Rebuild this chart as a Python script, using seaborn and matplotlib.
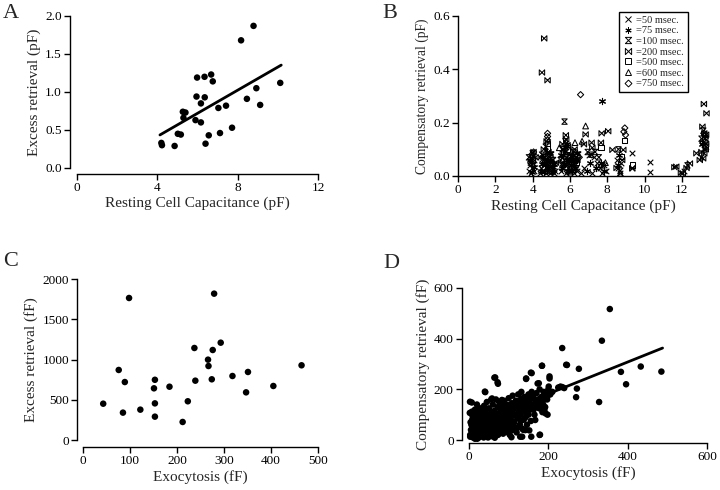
import numpy as np
import pandas as pd
import matplotlib
matplotlib.use('Agg')
import matplotlib.pyplot as plt
import seaborn as sns
from matplotlib.path import Path

# ---- panel A: excess retrieval vs resting capacitance (pF) ----
a_cap = [4.20, 4.23, 4.86, 5.02, 5.17, 5.27, 5.40, 5.30, 5.90, 5.95, 5.98, 6.17, 6.17, 6.35, 6.36,
         6.40, 6.56, 6.68, 6.76, 7.04, 7.12, 7.42, 7.72, 8.17, 8.46, 8.79, 8.93, 9.12, 10.12]
a_excess = [0.33, 0.30, 0.29, 0.45, 0.44, 0.74, 0.73, 0.66, 0.63, 0.94, 1.19, 0.85, 0.60, 1.20, 0.93,
            0.32, 0.43, 1.23, 1.14, 0.79, 0.46, 0.82, 0.53, 1.68, 0.91, 1.87, 1.05, 0.83, 1.12]
a_fit_x = [4.13, 10.17]
a_fit_y = [0.435, 1.354]

# ---- panel B: compensatory retrieval per pulse duration, (capacitance, retrieval) ----
b_50ms = [(3.80, 0.02), (3.85, 0.04), (3.90, 0.01), (3.95, 0.03), (4.00, 0.05), (4.05, 0.02), (4.10, 0.06),
          (4.40, 0.01), (4.45, 0.03), (4.50, 0.05), (4.55, 0.02), (4.60, 0.04), (4.65, 0.06), (4.70, 0.01),
          (4.75, 0.03), (4.85, 0.02), (4.90, 0.05), (4.95, 0.01), (5.00, 0.04), (5.05, 0.02), (5.10, 0.03),
          (5.15, 0.01), (5.20, 0.02), (5.50, 0.02), (5.55, 0.05), (5.60, 0.07), (5.65, 0.03), (5.70, 0.09),
          (5.80, 0.01), (5.85, 0.04), (6.00, 0.02), (6.05, 0.06), (6.10, 0.03), (6.15, 0.05), (6.20, 0.01),
          (6.30, 0.07), (6.40, 0.02), (6.60, 0.01), (6.75, 0.03), (7.00, 0.08), (7.20, 0.01), (7.30, 0.07),
          (7.45, 0.05), (7.60, 0.03), (7.70, 0.01), (7.80, 0.04), (7.95, 0.02), (8.50, 0.06), (8.60, 0.03),
          (8.70, 0.01), (8.75, 0.05), (9.30, 0.085), (9.35, 0.03), (10.30, 0.054), (10.30, 0.016),
          (12.10, 0.02), (13.00, 0.07), (13.20, 0.10),
          (4.42, 0.07), (4.58, 0.08), (4.72, 0.05), (4.88, 0.07), (5.02, 0.06), (5.12, 0.05), (5.58, 0.04),
          (5.62, 0.10), (5.68, 0.06), (5.78, 0.07), (5.92, 0.03), (6.08, 0.08), (6.18, 0.04), (6.25, 0.06),
          (6.35, 0.03), (3.88, 0.055), (4.02, 0.075)]
b_75ms = [(3.85, 0.06), (3.95, 0.015), (4.05, 0.035), (4.45, 0.02), (4.55, 0.07), (4.65, 0.04), (4.75, 0.09),
          (4.85, 0.03), (4.95, 0.06), (5.05, 0.015), (5.15, 0.045), (5.55, 0.03), (5.65, 0.08), (5.75, 0.11),
          (5.85, 0.06), (5.90, 0.02), (6.05, 0.04), (6.15, 0.08), (6.25, 0.03), (6.35, 0.06), (6.90, 0.02),
          (7.10, 0.05), (7.40, 0.03), (7.65, 0.05), (7.74, 0.28), (7.85, 0.02), (8.55, 0.04), (8.65, 0.08),
          (13.10, 0.12), (13.25, 0.15),
          (4.48, 0.045), (4.62, 0.015), (4.78, 0.055), (4.92, 0.085), (5.08, 0.035), (5.52, 0.08),
          (5.68, 0.045), (5.82, 0.12), (6.02, 0.065), (6.12, 0.02), (6.22, 0.055), (6.38, 0.085)]
b_100ms = [(3.80, 0.07), (3.90, 0.05), (4.00, 0.085), (4.50, 0.08), (4.60, 0.05), (4.70, 0.11), (4.80, 0.07),
           (4.90, 0.04), (5.00, 0.08), (5.10, 0.06), (5.50, 0.06), (5.60, 0.10), (5.71, 0.204), (5.75, 0.13),
           (5.80, 0.09), (5.95, 0.05), (6.10, 0.07), (6.20, 0.09), (6.30, 0.04), (6.45, 0.08), (6.95, 0.09),
           (7.15, 0.08), (7.35, 0.09), (7.55, 0.07), (7.75, 0.04), (8.60, 0.10), (8.70, 0.02), (12.30, 0.04),
           (13.05, 0.14), (13.15, 0.17), (13.30, 0.11)]
b_200ms = [(4.62, 0.516), (4.50, 0.388), (4.80, 0.359), (13.18, 0.27), (13.32, 0.235), (4.05, 0.09),
           (4.15, 0.07), (4.60, 0.10), (4.75, 0.13), (4.85, 0.09), (5.25, 0.05), (5.60, 0.12), (5.78, 0.153),
           (5.80, 0.137), (5.90, 0.11), (6.00, 0.08), (6.25, 0.10), (6.40, 0.06), (6.75, 0.119), (6.84, 0.156),
           (7.16, 0.125), (7.20, 0.106), (7.66, 0.125), (7.70, 0.16), (8.05, 0.168), (8.28, 0.098), (8.50, 0.03),
           (8.86, 0.098), (8.80, 0.06), (9.34, 0.029), (11.60, 0.033), (11.70, 0.035), (11.95, 0.012),
           (12.05, 0.01), (12.25, 0.03), (12.43, 0.047), (12.78, 0.085), (12.96, 0.06), (13.14, 0.066),
           (13.10, 0.185), (13.20, 0.16), (13.25, 0.14), (13.30, 0.155), (13.15, 0.125), (13.28, 0.10),
           (13.20, 0.085), (13.05, 0.09), (13.30, 0.12)]
b_500ms = [(4.00, 0.06), (4.80, 0.123), (4.80, 0.104), (5.85, 0.10), (7.66, 0.107), (8.91, 0.133),
           (8.77, 0.072), (9.34, 0.041), (6.35, 0.05)]
b_600ms = [(5.43, 0.106), (6.27, 0.125), (6.84, 0.1875), (6.65, 0.13), (7.90, 0.05), (4.70, 0.02),
           (8.70, 0.01), (6.00, 0.015)]
b_750ms = [(6.57, 0.305), (4.80, 0.16), (4.80, 0.148), (4.80, 0.135), (8.94, 0.18), (8.89, 0.166),
           (8.98, 0.154), (3.95, 0.08), (4.05, 0.09), (5.95, 0.02), (6.50, 0.07), (13.20, 0.16), (13.25, 0.13)]
b_labels = ['=50 msec.', '=75 msec.', '=100 msec.', '=200 msec.', '=500 msec.', '=600 msec.', '=750 msec.']

# ---- panel C: excess retrieval vs exocytosis (fF) ----
c_exo = [43, 76, 85, 89, 98, 122, 151, 153, 153, 153, 184, 212, 223, 237, 239, 266, 267, 274, 276, 279,
         293, 318, 347, 351, 405, 465]
c_excess = [451, 870, 340, 720, 1764, 377, 642, 748, 455, 290, 662, 224, 481, 1143, 737, 998, 919, 754,
            1118, 1818, 1209, 795, 592, 845, 671, 928]

# ---- panel D: compensatory retrieval vs exocytosis (fF), (exo, retrieval) ----
d_points = [(355, 517), (335, 392), (235, 363), (245, 297), (277, 281), (184, 293), (383, 269), (433, 290),
            (485, 270), (396, 220), (272, 203), (270, 169), (328, 150), (225, 207), (235, 209), (203, 251),
            (158, 264), (144, 243), (66, 247), (73, 222), (41, 189), (7, 148), (2, 107), (173, 223), (201, 211),
            (198, 174), (193, 105), (167, 79), (179, 21), (157, 13), (129, 13), (107, 11), (65, 9), (89, 36),
            (117, 40), (137, 40), (152, 38), (2.5, 151), (7.5, 112), (40, 191), (64, 246), (72, 228), (144, 241),
            (156, 266), (184, 293), (203, 243), (176, 224), (247, 296), (231, 210), (190, 118), (178, 20),
            (134, 13), (92, 39), (142, 39), (129, 99), (66, 92), (108, 138), (129, 158), (83, 158), (58, 164),
            (3, 13),
            (5, 40), (6, 60), (8, 25), (8, 80), (10, 10), (10, 50), (12, 100), (12, 30), (14, 65), (15, 5),
            (15, 120), (16, 45), (18, 85), (18, 20), (20, 55), (20, 140), (22, 35), (22, 105), (24, 70),
            (25, 10), (26, 90), (27, 50), (28, 125), (30, 25), (30, 75), (32, 110), (33, 45), (34, 15), (35, 60),
            (36, 95), (38, 135), (38, 30), (40, 80), (40, 50), (42, 20), (42, 115), (44, 65), (45, 150),
            (46, 40), (48, 90), (48, 10), (50, 125), (50, 55), (52, 75), (54, 30), (55, 105), (56, 160),
            (58, 45), (58, 85), (60, 140), (60, 20), (62, 65), (64, 115), (65, 95), (66, 35), (68, 160),
            (70, 75), (70, 50), (72, 130), (74, 100), (75, 25), (76, 150), (78, 85), (80, 60), (80, 115),
            (82, 40), (84, 135), (85, 95), (88, 70), (88, 155), (90, 120), (92, 50), (94, 100), (95, 140),
            (96, 80), (98, 30), (100, 130), (100, 165), (102, 60), (104, 110), (106, 90), (108, 145), (110, 40),
            (110, 175), (112, 120), (114, 70), (116, 100), (118, 155), (120, 135), (120, 30), (122, 85),
            (124, 180), (126, 115), (128, 60), (130, 150), (130, 100), (132, 190), (134, 45), (136, 130),
            (138, 80), (140, 170), (142, 110), (144, 150), (146, 60), (148, 135), (150, 180), (150, 100),
            (152, 160), (155, 120), (156, 75), (158, 190), (160, 140), (162, 170), (165, 100), (168, 155),
            (170, 185), (172, 130), (175, 160), (178, 200), (180, 145), (182, 170), (185, 110), (188, 190),
            (190, 160), (192, 130), (195, 175), (198, 100), (200, 200), (205, 180), (210, 190), (230, 210),
            (240, 205),
            (3, 20), (4, 70), (7, 35), (9, 95), (11, 15), (13, 55), (17, 30), (19, 75), (21, 5), (23, 45),
            (26, 30), (29, 60), (31, 90), (34, 75), (37, 10), (39, 55), (41, 100), (43, 35), (47, 70), (49, 25),
            (51, 95), (53, 50), (57, 15), (59, 110), (61, 80), (63, 30), (67, 55), (69, 105), (73, 20), (77, 70),
            (79, 45), (83, 90), (86, 25), (89, 110), (91, 65), (97, 45), (99, 90), (103, 20), (107, 75),
            (111, 55), (115, 140), (119, 95), (123, 50), (127, 125), (131, 75), (135, 165), (139, 120),
            (143, 90), (147, 115), (153, 140), (157, 165), (163, 120), (167, 140), (173, 150), (177, 125),
            (183, 155), (187, 140), (193, 180), (197, 160)]
d_fit_x = [5, 488]
d_fit_y = [60, 363]

sns.set_theme(style='ticks')
plt.rcParams['font.family'] = ['Liberation Serif', 'DejaVu Serif']
TICK_FS = 9.5
LABEL_FS = 11

fig = plt.figure(figsize=(7.2, 4.9), dpi=100)
W, H = 720.0, 490.0


def px_axes(left, right, top, bottom):
    return fig.add_axes([left / W, 1 - bottom / H, (right - left) / W, (bottom - top) / H])


def style_axis(ax, xb, yb, offset_x=4, offset_y=5):
    ax.spines['left'].set_bounds(*yb)
    ax.spines['bottom'].set_bounds(*xb)
    ax.spines['left'].set_position(('outward', offset_y))
    ax.spines['bottom'].set_position(('outward', offset_x))
    for side in ['left', 'bottom']:
        ax.spines[side].set_color('black')
        ax.spines[side].set_linewidth(1.0)
    ax.tick_params(axis='both', direction='out', length=4, width=1.0, colors='black',
                   labelsize=TICK_FS, pad=2)


# A
axA = px_axes(77, 318, 16, 168)
sns.scatterplot(x=a_cap, y=a_excess, color='black', s=22, edgecolor='none', ax=axA, clip_on=False)
sns.lineplot(x=a_fit_x, y=a_fit_y, color='black', linewidth=2, ax=axA)
axA.set_xlim(0, 12)
axA.set_ylim(0, 2.0)
axA.set_xticks([0, 4, 8, 12])
axA.set_xticklabels(['0', '4', '8', '12'])
axA.set_yticks([0, 0.5, 1.0, 1.5, 2.0])
axA.set_yticklabels(['0.0', '0.5', '1.0', '1.5', '2.0'])
sns.despine(ax=axA)
style_axis(axA, (0, 12), (0, 2.0))
axA.set_xlabel('Resting Cell Capacitance (pF)', fontsize=LABEL_FS, labelpad=2)
axA.set_ylabel('Excess retrieval (pF)', fontsize=LABEL_FS, labelpad=3)

# B
axB = px_axes(458, 708, 16, 176)
hourglass = Path([(-1, 1), (1, 1), (-1, -1), (1, -1), (-1, 1)],
                 [Path.MOVETO, Path.LINETO, Path.LINETO, Path.LINETO, Path.CLOSEPOLY])
bowtie = Path([(-1, 1), (-1, -1), (1, 1), (1, -1), (-1, 1)],
              [Path.MOVETO, Path.LINETO, Path.LINETO, Path.LINETO, Path.CLOSEPOLY])
b_groups = [b_50ms, b_75ms, b_100ms, b_200ms, b_500ms, b_600ms, b_750ms]
b_markers = ['x', (6, 2, 0), hourglass, bowtie, 's', '^', 'D']
b_sizes = [16, 20, 15, 15, 14, 17, 10]
b_lineart = [True, True, False, False, False, False, False]
handles = []
for pts, mk, sz, art, lab in zip(b_groups, b_markers, b_sizes, b_lineart, b_labels):
    df = pd.DataFrame(pts, columns=['cap', 'retrieval'])
    if art:
        sns.scatterplot(data=df, x='cap', y='retrieval', marker=mk, s=sz, color='black',
                        linewidth=0.8, ax=axB, clip_on=False)
    else:
        sns.scatterplot(data=df, x='cap', y='retrieval', marker=mk, s=sz, color='black',
                        facecolor='none', edgecolor='black', linewidth=0.75, ax=axB, clip_on=False)
    handles.append(plt.Line2D([], [], linestyle='none', marker=mk, markersize=4.5 if mk != 'D' else 3.5,
                              markerfacecolor='none', markeredgecolor='black', markeredgewidth=0.7,
                              label=lab))
axB.set_xlim(0, 13.4)
axB.set_ylim(0, 0.6)
axB.set_xticks(range(0, 13, 2))
axB.set_yticks([0, 0.2, 0.4, 0.6])
axB.set_yticklabels(['0.0', '0.2', '0.4', '0.6'])
sns.despine(ax=axB)
axB.spines['left'].set_bounds(0, 0.6)
for side in ['left', 'bottom']:
    axB.spines[side].set_color('black')
    axB.spines[side].set_linewidth(1.0)
axB.tick_params(axis='both', direction='out', length=4, width=1.0, colors='black',
                labelsize=TICK_FS, pad=2)
axB.set_xlabel('Resting Cell Capacitance (pF)', fontsize=LABEL_FS, labelpad=2)
axB.set_ylabel('Compensatory retrieval (pF)', fontsize=9.8, labelpad=3)
leg = axB.legend(handles=handles, loc='upper right', bbox_to_anchor=(0.92, 1.025), fontsize=7.5,
                 frameon=True, fancybox=False, framealpha=1, edgecolor='black', handlelength=1.0,
                 handletextpad=0.3, labelspacing=0.12, borderpad=0.35, borderaxespad=0)
leg.get_frame().set_linewidth(1.0)

# C
axC = px_axes(83, 318, 279, 440)
sns.scatterplot(x=c_exo, y=c_excess, color='black', s=22, edgecolor='none', ax=axC, clip_on=False)
axC.set_xlim(0, 500)
axC.set_ylim(0, 2000)
axC.set_xticks(range(0, 501, 100))
axC.set_yticks(range(0, 2001, 500))
sns.despine(ax=axC)
style_axis(axC, (0, 500), (0, 2000), offset_x=5, offset_y=4)
axC.set_xlabel('Exocytosis (fF)', fontsize=LABEL_FS, labelpad=2)
axC.set_ylabel('Excess retrieval (fF)', fontsize=LABEL_FS, labelpad=3)

# D
axD = px_axes(469, 707, 288, 440)
d_df = pd.DataFrame(d_points, columns=['exo', 'retrieval'])
sns.scatterplot(data=d_df, x='exo', y='retrieval', color='black', s=22, edgecolor='none', ax=axD,
                clip_on=False)
sns.lineplot(x=d_fit_x, y=d_fit_y, color='black', linewidth=2, ax=axD)
axD.set_xlim(0, 600)
axD.set_ylim(0, 600)
axD.set_xticks([0, 200, 400, 600])
axD.set_yticks([0, 200, 400, 600])
sns.despine(ax=axD)
style_axis(axD, (0, 600), (0, 600), offset_x=2, offset_y=5)
axD.set_xlabel('Exocytosis (fF)', fontsize=LABEL_FS, labelpad=2)
axD.set_ylabel('Compensatory retrieval (fF)', fontsize=LABEL_FS, labelpad=3)

# panel letters
for letter, (x, y) in zip('ABCD', [(3, 4), (382, 4), (3, 252), (383, 254)]):
    fig.text(x / W, 1 - y / H, letter, fontsize=16, va='top', ha='left')

fig.savefig('out.png', dpi=100)
